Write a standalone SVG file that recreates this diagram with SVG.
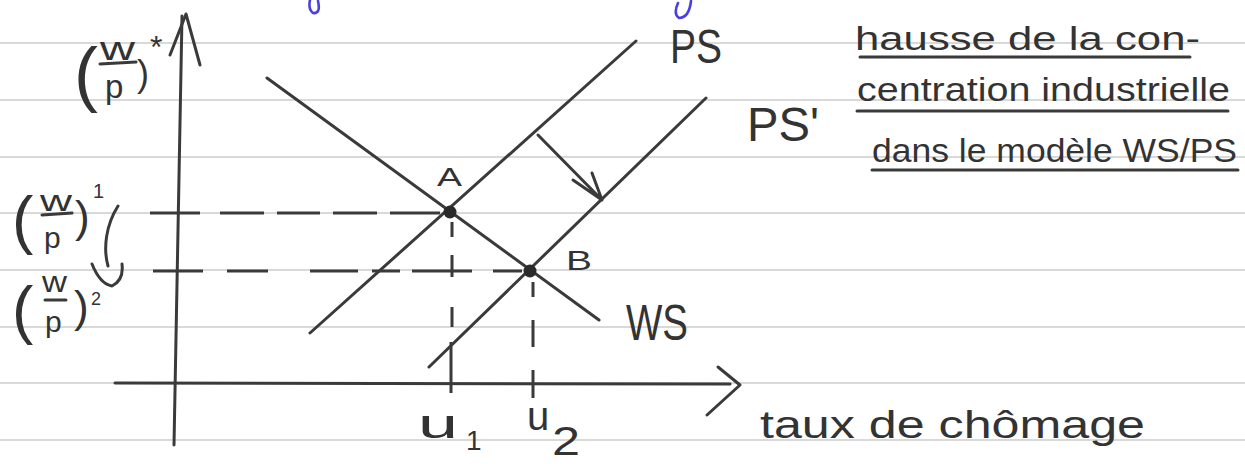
<svg xmlns="http://www.w3.org/2000/svg" width="1245" height="464" viewBox="0 0 1245 464">
<style>
.rule{stroke:#cdcdcd;stroke-width:1.6}
.ink{fill:none;stroke:#3a3a3a;stroke-width:3;stroke-linecap:round;stroke-linejoin:round}
.dash{fill:none;stroke:#3a3a3a;stroke-width:3;stroke-linecap:butt}
.blue{fill:none;stroke:#4b3fe0;stroke-width:2.6;stroke-linecap:round}
.t{font-family:"Liberation Sans",Arial,sans-serif;fill:#333333}
.dot{fill:#2a2a2a}
</style>
<rect width="1245" height="464" fill="#ffffff"/>
<g id="paper">
<path class="rule" d="M0,43H1245M0,100H1245M0,157H1245M0,213H1245M0,270H1245M0,327H1245M0,383H1245M0,440H1245"/>
<path class="blue" d="M318,1 Q321,14 313,13 Q308,9 310,0"/>
<path class="blue" d="M691,1 Q689,18 679,18 Q673,14 678,3"/>
</g>
<g id="axes">
<path class="ink" d="M182,16 L174,445"/>
<path class="ink" d="M170,55 L186,14 L200,65"/>
<path class="ink" d="M115,383 L730,384"/>
<path class="ink" d="M718,367 L740,385 L707,415"/>
</g>
<g id="connectors">
<path id="WS-curve" class="ink" d="M267,78 L599,320"/>
<path id="PS-curve" class="ink" d="M310,333 L636,41"/>
<path id="PS2-curve" class="ink" d="M429,367 L706,98"/>
<path id="shift" class="ink" d="M538,135 L602,200 M573,180 L602,200 L592,173"/>
<path class="dash" d="M150,213H200M220,213H264M277,213H320M333,213H377M390,213H440"/>
<path class="dash" d="M153,271H203M227,271H268M310,271H358M372,271H400M412,271H472M493,271H522"/>
<path class="dash" d="M452,222V237M452,255V277M452,307V327M451,342V393"/>
<path class="dash" d="M533,282V297M533,320V347M533,370V398"/>
</g>
<g id="point-A">
<circle class="dot" cx="450" cy="212" r="6.5"/>
<text class="t" x="437" y="186" font-size="26" textLength="25" lengthAdjust="spacingAndGlyphs">A</text>
</g>
<g id="point-B">
<circle class="dot" cx="530" cy="271" r="6.5"/>
<text class="t" x="566" y="270" font-size="28" textLength="26" lengthAdjust="spacingAndGlyphs">B</text>
</g>
<g id="label-PS"><text class="t" x="670" y="63" font-size="48" textLength="52" lengthAdjust="spacingAndGlyphs">PS</text></g>
<g id="label-PS2"><text class="t" x="747" y="141" font-size="48" textLength="72" lengthAdjust="spacingAndGlyphs">PS'</text></g>
<g id="label-WS"><text class="t" x="626" y="340" font-size="50" textLength="62" lengthAdjust="spacingAndGlyphs">WS</text></g>
<g id="label-u1">
<text class="t" x="418" y="438" font-size="40" textLength="40" lengthAdjust="spacingAndGlyphs">u</text>
<text class="t" x="466" y="450" font-size="28">1</text>
</g>
<g id="label-u2">
<text class="t" x="527" y="430" font-size="40">u</text>
<text class="t" x="552" y="455" font-size="40" textLength="28" lengthAdjust="spacingAndGlyphs">2</text>
</g>
<g id="label-x"><text class="t" x="760" y="438" font-size="38" textLength="385" lengthAdjust="spacingAndGlyphs">taux de chômage</text></g>
<g id="title">
<text class="t" x="855" y="50" font-size="34" textLength="345" lengthAdjust="spacingAndGlyphs">hausse de la con-</text>
<path class="ink" d="M860,57 L1190,57"/>
<text class="t" x="857" y="101" font-size="34" textLength="373" lengthAdjust="spacingAndGlyphs">centration industrielle</text>
<path class="ink" d="M857,111 L1228,111"/>
<text class="t" x="872" y="162" font-size="34" textLength="365" lengthAdjust="spacingAndGlyphs">dans le modèle WS/PS</text>
<path class="ink" d="M872,170 L1238,170"/>
</g>
<g id="label-y">
<text class="t" x="74" y="98" font-size="72">(</text>
<text class="t" x="100" y="60" font-size="33" textLength="35" lengthAdjust="spacingAndGlyphs">w</text>
<path class="ink" d="M100,64 L136,62"/>
<text class="t" x="105" y="98" font-size="33">p</text>
<text class="t" x="137" y="86" font-size="36">)</text>
<text class="t" x="150" y="58" font-size="32">*</text>
</g>
<g id="label-wp1">
<text class="t" x="12" y="242" font-size="64">(</text>
<text class="t" x="40" y="211" font-size="30" textLength="32" lengthAdjust="spacingAndGlyphs">w</text>
<path class="ink" d="M42,215 L72,213"/>
<text class="t" x="44" y="248" font-size="30">p</text>
<text class="t" x="75" y="232" font-size="44">)</text>
<text class="t" x="93" y="198" font-size="20">1</text>
<path class="ink" d="M118,206 C106,225 103,248 108,266 M92,264 Q100,284 112,286 Q124,280 122,264"/>
</g>
<g id="label-wp2">
<text class="t" x="12" y="332" font-size="64">(</text>
<text class="t" x="42" y="292" font-size="30" textLength="25" lengthAdjust="spacingAndGlyphs">w</text>
<path class="ink" d="M45,300 L66,300"/>
<text class="t" x="45" y="332" font-size="30">p</text>
<text class="t" x="74" y="322" font-size="44">)</text>
<text class="t" x="91" y="305" font-size="18">2</text>
</g>
</svg>
